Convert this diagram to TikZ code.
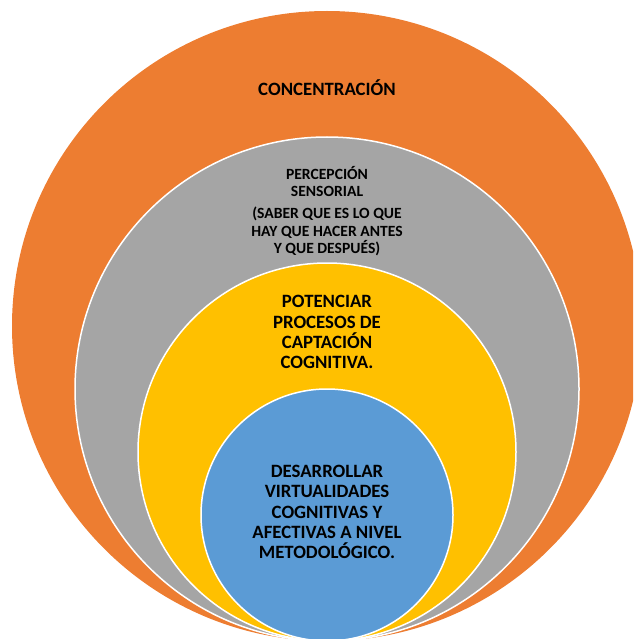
\documentclass[tikz,border=0pt]{standalone}
\usepackage{fontspec}
\setmainfont{Carlito}
\usepackage{tikz}

\definecolor{ringorange}{HTML}{ED7D31}
\definecolor{ringgray}{HTML}{A5A5A5}
\definecolor{ringyellow}{HTML}{FFC000}
\definecolor{ringblue}{HTML}{5B9BD5}

\tikzset{
  ring/.style={draw=white, line width=1.5pt},
  bigtext/.style={align=center, font=\fontsize{18.8}{20.2}\selectfont\bfseries},
  smalltext/.style={align=center, font=\fontsize{15.6}{17.8}\selectfont\bfseries}
}

\begin{document}
\begin{tikzpicture}[x=1pt,y=-1pt]
		\useasboundingbox (0,0) rectangle (633,639);
		\clip (0,0) rectangle (633,639);
		
		\fill[ringorange] (327,326) circle (315pt);
		\filldraw[ring, fill=ringgray] (327,389) circle (252pt);
		\filldraw[ring, fill=ringyellow] (327,452) circle (189pt);
		\filldraw[ring, fill=ringblue] (327,515) circle (126pt);
		
		\node[bigtext] (concentracion) at (327,88) {CONCENTRACIÓN};
		\node[smalltext] (percepcion) at (327,181.5) {PERCEPCIÓN\\SENSORIAL};
		\node[smalltext] (saber) at (327,231.5) {(SABER QUE ES LO QUE\\HAY QUE HACER ANTES\\Y QUE DESPUÉS)};
		\node[bigtext] (potenciar) at (327,332) {POTENCIAR\\PROCESOS DE\\CAPTACIÓN\\COGNITIVA.};
		\node[bigtext] (desarrollar) at (327,512) {DESARROLLAR\\VIRTUALIDADES\\COGNITIVAS Y\\AFECTIVAS A NIVEL\\METODOLÓGICO.};
	\end{tikzpicture}
\end{document}
